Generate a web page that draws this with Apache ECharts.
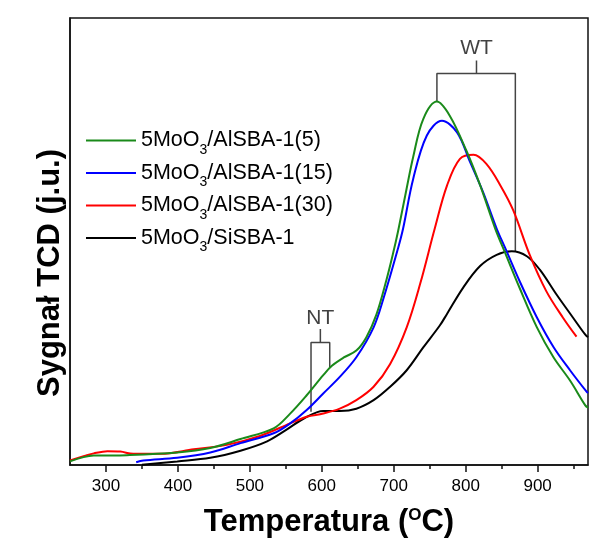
<!DOCTYPE html>
<html>
<head>
<meta charset="utf-8">
<script src="https://cdn.jsdelivr.net/npm/echarts@6/dist/echarts.min.js"></script>
<style>
html,body{margin:0;padding:0;background:#fff;}
#chart{width:600px;height:545px;}
</style>
</head>
<body>
<div id="chart"></div>
<script>
// ---- data ----
const seriesNames = ['5MoO3/AlSBA-1(5)', '5MoO3/AlSBA-1(15)', '5MoO3/AlSBA-1(30)', '5MoO3/SiSBA-1'];

const tempAl5 = [250,283,329,399,445,487,533,556,579,602,614,630,648,662,676,690,699,706,716,727,741,760,778,801,820,841,855,875,899,922,945,966,970];
const tcdAl5  = [0.8,2.1,2.2,2.8,3.8,5.8,8.2,11.5,15.6,20.1,22.2,24.0,25.6,28.6,33.7,41.5,47.3,52.3,60.3,68.9,77.4,81.3,78.1,70.3,62.6,52.9,47.4,39.6,30.8,24.1,18.9,13.4,12.8];

const tempAl15 = [342,352,399,445,487,533,556,579,602,625,648,672,686,706,713,727,746,767,788,806,824,843,855,875,899,922,945,968,970];
const tcdAl15  = [0.6,1.0,1.6,2.8,4.9,7.1,9.3,12.3,16.0,19.7,24.1,30.8,37.4,48.5,52.9,64.0,73.7,77.0,74.4,67.8,61.1,52.9,48.5,41.1,33.0,26.4,21.2,16.4,16.1];

const tempAl30 = [250,270,283,302,320,338,376,422,468,514,556,579,602,625,648,672,695,718,737,757,774,792,811,829,848,866,889,912,935,954];
const tcdAl30  = [1.0,2.0,2.6,3.1,3.0,2.5,2.5,3.5,4.5,6.5,9.3,10.8,11.5,12.6,14.5,17.5,22.6,30.8,40.7,52.9,62.5,68.5,69.4,67.3,62.6,57.0,47.0,38.9,33.0,28.7];

const tempSi = [350,399,445,487,524,551,575,602,625,648,672,695,718,741,764,774,797,820,843,864,885,903,926,949,966,970];
const tcdSi  = [0.05,0.8,1.6,3.2,5.3,7.9,10.4,12.1,12.1,12.6,14.5,17.5,21.2,26.3,31.2,33.8,39.8,44.5,47.0,47.8,46.7,43.7,38.2,33.0,29.2,28.6];

const xTickLabels = [300,400,500,600,700,800,900];
const xMinorTicks = [350,450,550,650,750,850,950];

// bracket annotations (data coordinates)
const wtBracketT = [760,760,869,869];
const wtBracketV = [81.4,87.6,87.6,47.9];
const wtStemT = [815,815];
const wtStemV = [87.6,90.5];
const ntBracketT = [585,585,611,611];
const ntBracketV = [11.9,27.4,27.4,21.9];
const ntStemT = [598,598];
const ntStemV = [27.4,30.4];
const annoLabels = ['WT','NT'];
const annoT = [815,598];
const annoV = [93.3,32.9];

const colors = ['#1a8a1a','#0000ff','#ff0000','#000000'];

function zip(a,b){ return a.map((v,i)=>[v,b[i]]); }

const FONT = 'Liberation Sans';
const chart = echarts.init(document.getElementById('chart'), null, {renderer:'canvas'});

const curveData = [zip(tempAl5,tcdAl5), zip(tempAl15,tcdAl15), zip(tempAl30,tcdAl30), zip(tempSi,tcdSi)];

const curveSeries = curveData.map((d,i)=>({
  name: seriesNames[i],
  type: 'line',
  data: d,
  smooth: 0.35,
  showSymbol: false,
  symbol: 'none',
  lineStyle: {color: colors[i], width: 2},
  itemStyle: {color: colors[i]},
  z: 10 - i,
  silent: true
}));

function bracket(t,v){
  return {
    type:'line', data: zip(t,v), showSymbol:false, symbol:'none', silent:true,
    lineStyle:{color:'#444', width:1.5}, z:3
  };
}

const option = {
  animation: false,
  backgroundColor: '#ffffff',
  grid: {left:70, right:12, top:18, bottom:76, show:true, borderColor:'#111', borderWidth:1.5, containLabel:false},
  legend: {
    data: seriesNames,
    orient: 'vertical',
    left: 86,
    top: 124,
    padding: 0,
    itemWidth: 50,
    itemHeight: 2,
    itemGap: -0.5,
    icon: 'rect',
    selectedMode: false,
    formatter: n => n.replace('MoO3', 'MoO{s|3}'),
    textStyle: {
      fontFamily: FONT, fontSize: 21.5, color:'#000', lineHeight: 33,
      rich: {
        s: {fontFamily: FONT, fontSize: 14, color:'#000', lineHeight: 14, padding:[19,0,0,0]}
      }
    }
  },
  xAxis: [{
    type: 'value', min: 250, max: 970,
    splitLine: {show:false},
    axisLine: {show:true, onZero:false, lineStyle:{color:'#111', width:1.5}},
    axisTick: {show:true, inside:false, length:7, customValues: xTickLabels, lineStyle:{color:'#111', width:1.5}},
    axisLabel: {show:true, customValues: xTickLabels, fontFamily: FONT, fontSize:17, color:'#000', margin:13},
    name: 'Temperatura ({o|O}C)',
    nameLocation: 'middle',
    nameGap: 39,
    nameTextStyle: {
      fontFamily: FONT, fontSize: 31, fontWeight:'bold', color:'#000', lineHeight: 36,
      rich: { o: {fontFamily: FONT, fontSize: 17, fontWeight:'bold', color:'#000', lineHeight: 19, padding:[0,0,14,0]} }
    }
  },{
    type: 'value', min: 250, max: 970, position:'bottom',
    splitLine: {show:false},
    axisLine: {show:false},
    axisTick: {show:true, inside:false, length:4, customValues: xMinorTicks, lineStyle:{color:'#111', width:1.5}},
    axisLabel: {show:false}
  }],
  yAxis: {
    type: 'value', min: 0, max: 100,
    splitLine: {show:false},
    axisLine: {show:true, lineStyle:{color:'#111', width:1.5}},
    axisTick: {show:false},
    axisLabel: {show:false}
  },
  graphic: [{
    type: 'text',
    x: 50, y: 273,
    rotation: Math.PI/2,
    style: {
      text: 'Sygnał TCD (j.u.)',
      fontFamily: FONT, fontSize: 31, fontWeight: 'bold', fill:'#000',
      align: 'center', verticalAlign: 'middle'
    }
  }],
  series: [
    ...curveSeries,
    bracket(wtBracketT, wtBracketV),
    bracket(wtStemT, wtStemV),
    bracket(ntBracketT, ntBracketV),
    bracket(ntStemT, ntStemV),
    {
      type: 'scatter',
      data: annoT.map((t,i)=>[t, annoV[i], annoLabels[i]]),
      symbolSize: 0,
      silent: true,
      label: {show:true, position:'inside', formatter: p => p.value[2], fontFamily: FONT, fontSize: 21, color:'#111'}
    }
  ]
};
chart.setOption(option);
</script>
</body>
</html>
